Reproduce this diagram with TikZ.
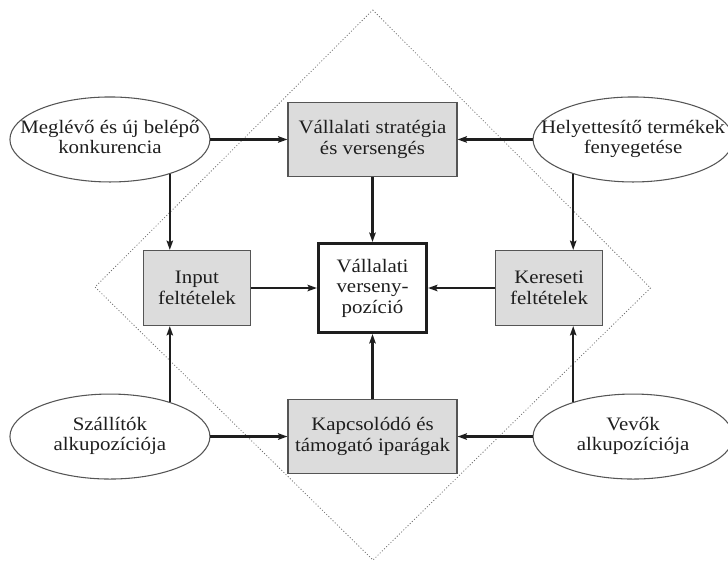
\documentclass[tikz,border=0pt]{standalone}
\usepackage{fontspec}
\setmainfont[FakeStretch=1.1]{Liberation Serif}
\usetikzlibrary{positioning,arrows.meta,shapes.geometric}
\definecolor{BoxGray}{HTML}{DCDCDC}
\definecolor{EdgeGray}{HTML}{555555}
\definecolor{DotGray}{HTML}{707070}
\definecolor{Ink}{HTML}{1E1E1E}

\tikzset{
  oval/.style={draw=EdgeGray,ellipse,line width=0.8pt,inner sep=0pt,minimum width=150pt,minimum height=63.75pt},
  graybox/.style={draw=EdgeGray,fill=BoxGray,line width=0.8pt,inner sep=0pt,align=center},
  link/.style={-{Stealth[length=7pt,width=4.8pt,inset=1.2pt]},line width=1.9pt,Ink}
}
% two lines centred in a box of no width, so the oval keeps its own size
\newcommand{\ovaltext}[2]{\makebox[0pt]{\begin{tabular}{@{}c@{}}#1\\#2\end{tabular}}}

\begin{document}
\begin{tikzpicture}[x=0.75pt,y=-0.75pt,node distance=48.75pt and 49.5pt,
  every node/.style={font=\fontsize{14.25pt}{15.4pt}\selectfont,text=Ink}]
  \useasboundingbox (0,0) rectangle (728,562);
  % dotted diamond behind everything
  \draw[DotGray,line width=0.6pt,dash pattern=on 0.75pt off 1.5pt] (372.7,10) -- (650.5,288) -- (373,560) -- (95,287) -- cycle;

  \node[draw=Ink,fill=white,line width=2.3pt,minimum width=81pt,minimum height=66.7pt,inner sep=0pt,align=center] (pos) at (372.5,288) {Vállalati\\verseny-\\pozíció};
  \node[graybox,minimum width=126.75pt,minimum height=55.5pt,above=of pos] (str) {Vállalati stratégia\\és versengés};
  \node[graybox,minimum width=126.75pt,minimum height=55.5pt,below=of pos] (kap) {Kapcsolódó és\\támogató iparágak};
  \node[graybox,minimum width=80.25pt,minimum height=56.25pt,left=of pos] (inp) {Input\\feltételek};
  \node[graybox,minimum width=80.25pt,minimum height=56.25pt,right=50.25pt of pos] (ker) {Kereseti\\feltételek};

  \node[oval,left=57.75pt of str] (kon) {\ovaltext{Meglévő és új belépő}{konkurencia}};
  \node[oval,right=56.25pt of str] (hel) {\ovaltext{Helyettesítő termékek}{fenyegetése}};
  \node[oval,left=57.75pt of kap] (szal) {\ovaltext{Szállítók}{alkupozíciója}};
  \node[oval,right=56.25pt of kap] (vev) {\ovaltext{Vevők}{alkupozíciója}};

  \draw[link] (kon) -- (str);
  \draw[link] (hel) -- (str);
  \draw[link] (szal) -- (kap);
  \draw[link] (vev) -- (kap);
  \draw[link] (str) -- (pos);
  \draw[link] (kap) -- (pos);
  \draw[link] (inp) -- (pos);
  \draw[link] (ker) -- (pos);
  \draw[link] (kon.-30) -- (kon.-30 |- inp.north);
  \draw[link] (szal.30) -- (szal.30 |- inp.south);
  \draw[link] (hel.-150) -- (hel.-150 |- ker.north);
  \draw[link] (vev.150) -- (vev.150 |- ker.south);
\end{tikzpicture}
\end{document}
